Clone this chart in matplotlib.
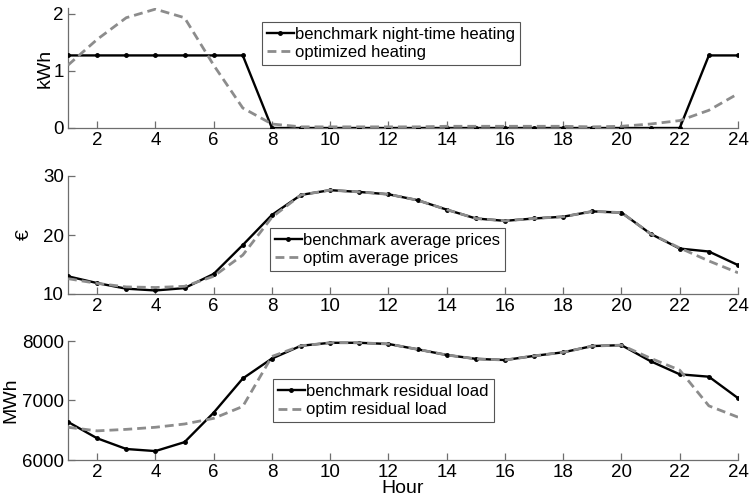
import matplotlib
matplotlib.use("Agg")
import matplotlib.pyplot as plt

plt.rcParams['font.family'] = ['Liberation Sans', 'DejaVu Sans']

hours = list(range(1, 25))

bench_heat = [1.27]*7 + [0.0]*15 + [1.27, 1.27]
optim_heat = [1.10, 1.55, 1.93, 2.08, 1.93, 1.10, 0.35, 0.07, 0.02, 0.02, 0.02, 0.02,
              0.02, 0.03, 0.03, 0.03, 0.03, 0.03, 0.02, 0.03, 0.07, 0.13, 0.31, 0.60]

bench_price = [13.0, 11.85, 10.9, 10.6, 11.0, 13.4, 18.3, 23.4, 26.8, 27.6, 27.3, 26.9,
               25.9, 24.3, 22.8, 22.4, 22.8, 23.1, 24.0, 23.8, 20.2, 17.7, 17.2, 14.9]
optim_price = [12.6, 11.8, 11.2, 11.1, 11.3, 13.0, 16.6, 23.0, 26.8, 27.6, 27.3, 26.9,
               25.9, 24.3, 22.8, 22.4, 22.8, 23.1, 24.0, 23.8, 20.2, 17.8, 15.6, 13.6]

bench_load = [6640, 6365, 6185, 6150, 6300, 6795, 7370, 7705, 7920, 7970, 7970, 7950,
              7860, 7765, 7700, 7680, 7750, 7810, 7915, 7930, 7660, 7440, 7400, 7040]
optim_load = [6550, 6490, 6515, 6550, 6605, 6700, 6900, 7740, 7920, 7970, 7970, 7950,
              7860, 7765, 7700, 7680, 7750, 7810, 7915, 7930, 7710, 7510, 6910, 6720]

xticks = list(range(2, 25, 2))

W, H = 751, 498
fig = plt.figure(figsize=(W/100, H/100), dpi=100)

def ax_rect(top_px, bottom_px, left_px=68, right_px=738):
    return [left_px/W, 1 - bottom_px/H, (right_px-left_px)/W, (bottom_px-top_px)/H]

panels = [
    dict(rect=ax_rect(8, 128), b=bench_heat, o=optim_heat, ylim=(0, 2.1), yticks=[0, 1, 2],
         ylabel='kWh', lx=-0.022, lfs=14,
         labels=('benchmark night-time heating', 'optimized heating'), leg=(262, 22)),
    dict(rect=ax_rect(176, 294), b=bench_price, o=optim_price, ylim=(10, 30), yticks=[10, 20, 30],
         ylabel='€', lx=-0.052, lfs=14,
         labels=('benchmark average prices', 'optim average prices'), leg=(270, 228)),
    dict(rect=ax_rect(341, 460), b=bench_load, o=optim_load, ylim=(6000, 8000), yticks=[6000, 7000, 8000],
         ylabel='MWh', lx=-0.072, lfs=14,
         labels=('benchmark residual load', 'optim residual load'), leg=(273, 379)),
]

axes = []
for p in panels:
    ax = fig.add_axes(p['rect'])
    l1, = ax.plot(hours, p['b'], color='black', lw=1.7, marker='.', ms=5, zorder=3)
    l2, = ax.plot(hours, p['o'], color='#8c8c8c', lw=2.0, ls=(0, (3.2, 1.8)), zorder=4)
    ax.set_xlim(1, 24)
    ax.set_ylim(*p['ylim'])
    ax.set_xticks(xticks)
    ax.set_yticks(p['yticks'])
    for s in ('top', 'right'):
        ax.spines[s].set_visible(False)
    for s in ('left', 'bottom'):
        ax.spines[s].set_color('#6e6e6e')
        ax.spines[s].set_linewidth(0.9)
    ax.tick_params(direction='in', length=5, width=0.9, color='#6e6e6e', labelsize=13.5,
                   pad=3, labelcolor='black')
    ax.set_ylabel(p['ylabel'], fontsize=p['lfs'])
    ax.yaxis.set_label_coords(p['lx'], 0.5)
    ax.patch.set_alpha(0)
    lx, ly = p['leg']
    leg = ax.legend([l1, l2], p['labels'], loc='upper left',
                    bbox_to_anchor=(lx/W, 1 - ly/H), bbox_transform=fig.transFigure,
                    borderaxespad=0, fontsize=12, frameon=True, fancybox=False,
                    framealpha=1, edgecolor='#555555', handlelength=1.6,
                    handletextpad=0.1, borderpad=0.3, labelspacing=0.2)
    leg.get_frame().set_linewidth(0.8)
    axes.append(ax)

axes[2].set_xlabel('Hour', fontsize=14)
axes[2].xaxis.set_label_coords(0.5, -0.17)

fig.savefig('out.png', dpi=100)
